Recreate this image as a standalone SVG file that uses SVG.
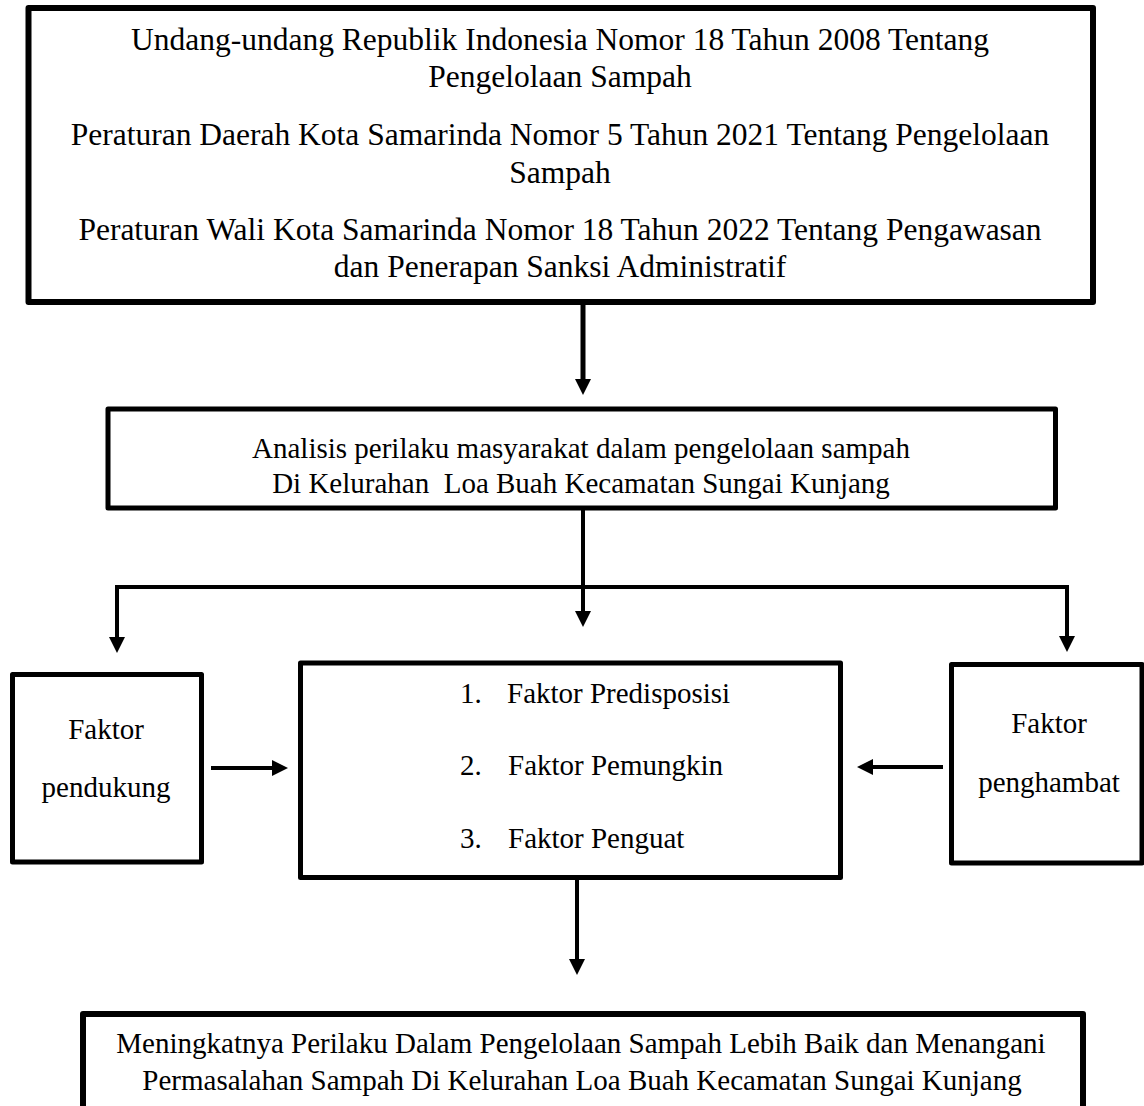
<svg xmlns="http://www.w3.org/2000/svg" width="1144" height="1106" viewBox="0 0 1144 1106">
<style>
.box{fill:#fff;stroke:#000;stroke-width:5;stroke-linejoin:round}
.t{font-family:"Liberation Serif","Times New Roman",serif;fill:#000;font-size:29px}
.tc{text-anchor:middle}
.big{font-size:31.5px}
.ln{fill:none;stroke:#000;stroke-width:4}
</style>
<defs>
<marker id="ah" viewBox="0 0 16 16" refX="8" refY="8" markerWidth="16" markerHeight="16" markerUnits="userSpaceOnUse" orient="auto-start-reverse">
<path d="M0,0 L16,8 L0,16 z" fill="#000"/>
</marker>
</defs>
<rect width="1144" height="1106" fill="#fff"/>
<g id="connectors">
<line class="ln" x1="583" y1="303" x2="583" y2="387" style="stroke-width:5" marker-end="url(#ah)"/>
<line class="ln" x1="583" y1="508" x2="583" y2="619" marker-end="url(#ah)"/>
<path class="ln" d="M117,645 V587 H1067 V644" marker-start="url(#ah)" marker-end="url(#ah)"/>
<line class="ln" x1="211" y1="768" x2="280" y2="768" marker-end="url(#ah)"/>
<line class="ln" x1="943" y1="767" x2="865" y2="767" marker-end="url(#ah)"/>
<line class="ln" x1="577" y1="877" x2="577" y2="967" marker-end="url(#ah)"/>
</g>
<g id="regulations">
<rect class="box" x="28.5" y="8" width="1064.5" height="294" style="stroke-width:6"/>
<text class="t tc big" x="560" y="50">Undang-undang Republik Indonesia Nomor 18 Tahun 2008 Tentang</text>
<text class="t tc big" x="560" y="87">Pengelolaan Sampah</text>
<text class="t tc big" x="560" y="145">Peraturan Daerah Kota Samarinda Nomor 5 Tahun 2021 Tentang Pengelolaan</text>
<text class="t tc big" x="560" y="183">Sampah</text>
<text class="t tc big" x="560" y="240">Peraturan Wali Kota Samarinda Nomor 18 Tahun 2022 Tentang Pengawasan</text>
<text class="t tc big" x="560" y="277">dan Penerapan Sanksi Administratif</text>
</g>
<g id="analysis">
<rect class="box" x="108" y="409" width="947.5" height="99"/>
<text class="t tc" x="581" y="458">Analisis perilaku masyarakat dalam pengelolaan sampah</text>
<text class="t tc" x="581" y="493" xml:space="preserve">Di Kelurahan  Loa Buah Kecamatan Sungai Kunjang</text>
</g>
<g id="pendukung">
<rect class="box" x="12.5" y="674.5" width="189" height="187.5"/>
<text class="t tc" x="106" y="739">Faktor</text>
<text class="t tc" x="106" y="797">pendukung</text>
</g>
<g id="factors">
<rect class="box" x="300.5" y="663" width="540" height="214.5"/>
<text class="t" x="460" y="703">1.</text>
<text class="t" x="507" y="703">Faktor Predisposisi</text>
<text class="t" x="460" y="775">2.</text>
<text class="t" x="508" y="775">Faktor Pemungkin</text>
<text class="t" x="460" y="848">3.</text>
<text class="t" x="508" y="848">Faktor Penguat</text>
</g>
<g id="penghambat">
<rect class="box" x="951.5" y="664.5" width="190.5" height="198.5"/>
<text class="t tc" x="1049" y="733">Faktor</text>
<text class="t tc" x="1049" y="792">penghambat</text>
</g>
<g id="outcome">
<rect class="box" x="83" y="1014" width="1000" height="130" style="stroke-width:6"/>
<text class="t tc" x="581" y="1053">Meningkatnya Perilaku Dalam Pengelolaan Sampah Lebih Baik dan Menangani</text>
<text class="t tc" x="582" y="1090">Permasalahan Sampah Di Kelurahan Loa Buah Kecamatan Sungai Kunjang</text>
</g>
</svg>
